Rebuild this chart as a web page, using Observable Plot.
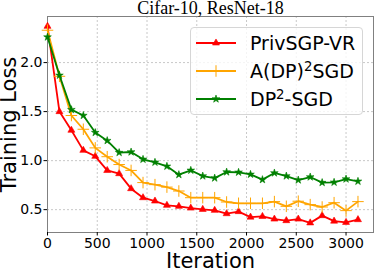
<!DOCTYPE html>
<html><head><meta charset="utf-8">
<script src="https://cdn.jsdelivr.net/npm/d3@7"></script>
<script src="https://cdn.jsdelivr.net/npm/@observablehq/plot@0.6"></script>
<style>
body{margin:0;background:#fff;}
#wrap{position:relative;width:374px;height:268px;font-family:"DejaVu Sans",sans-serif;overflow:hidden;}
#title{height:16px;line-height:16px;padding-left:47px;width:327px;text-align:center;font-family:"Liberation Serif",serif;font-size:18px;position:relative;top:0px;white-space:nowrap;}
#legend{position:absolute;left:190px;top:27px;width:173px;height:88px;border:1px solid #d6d6d6;border-radius:4px;background:rgba(255,255,255,0.8);box-sizing:border-box;}
.row{position:absolute;left:0;height:28px;width:170px;}
.row svg{position:absolute;left:4px;top:0;}
.row span{position:absolute;left:59px;top:0;line-height:28px;font-size:19px;white-space:nowrap;}
sup{font-size:0.7em;line-height:0;vertical-align:0.5em;}
</style></head>
<body>
<div id="wrap">
<div id="title">Cifar-10, ResNet-18</div>
<div id="chart"></div>
<div id="legend"></div>
</div>
<script>
const iterations = [0,120,240,360,480,600,720,840,960,1080,1200,1320,1440,1560,1680,1800,1920,2040,2160,2280,2400,2520,2640,2760,2880,3000,3120];
const privsgp = [2.37,1.50,1.31,1.105,1.044,0.90,0.867,0.714,0.622,0.588,0.544,0.534,0.516,0.503,0.493,0.459,0.48,0.424,0.431,0.404,0.388,0.404,0.365,0.439,0.383,0.37,0.398];
const adp2sgd = [2.33,1.86,1.46,1.32,1.13,1.04,0.96,0.90,0.776,0.755,0.73,0.69,0.622,0.622,0.622,0.578,0.565,0.565,0.565,0.582,0.534,0.586,0.551,0.527,0.571,0.49,0.582];
const dp2sgd = [2.26,1.87,1.52,1.46,1.286,1.204,1.082,1.088,1.013,0.983,0.942,0.857,0.901,0.843,0.822,0.884,0.881,0.860,0.806,0.874,0.843,0.802,0.833,0.776,0.779,0.812,0.789];
const seriesNames = ["PrivSGP-VR","A(DP)<sup>2</sup>SGD","DP<sup>2</sup>-SGD"];
const seriesColors = ["#ff0000","#ffa500","#008000"];
const seriesSymbols = ["triangle","plus","star"];
const xTicks = [0,500,1000,1500,2000,2500,3000];
const yTicks = [0.5,1.0,1.5,2.0];

const allValues = [privsgp, adp2sgd, dp2sgd];
const tables = allValues.map(vals => iterations.map((x,i)=>({x, y: vals[i]})));

const symR = {triangle:2.6, plus:3.8, star:2.4};
const marks = [
  Plot.gridX(xTicks,{stroke:"#b0b0b0",strokeOpacity:0.7,strokeDasharray:"2,2"}),
  Plot.gridY(yTicks,{stroke:"#b0b0b0",strokeOpacity:0.7,strokeDasharray:"2,2"}),
  Plot.frame({stroke:"#808080"}),
  Plot.axisX(xTicks,{tickSize:3.5,tickPadding:2,fontSize:14,tickFormat:d3.format("d"),label:"Iteration",labelAnchor:"center",labelArrow:"none",labelOffset:35}),
  Plot.axisY(yTicks,{tickSize:3.5,tickPadding:1.5,fontSize:14,tickFormat:d=>d.toFixed(1),label:"Training Loss",labelAnchor:"center",labelArrow:"none",labelOffset:46})
];
tables.forEach((t,k)=>{
  marks.push(Plot.line(t,{x:"x",y:"y",stroke:seriesColors[k],strokeWidth:1.8}));
  const sym = seriesSymbols[k];
  if (sym==="plus") marks.push(Plot.dot(t,{x:"x",y:"y",symbol:sym,r:symR[sym],stroke:seriesColors[k],strokeWidth:1}));
  else marks.push(Plot.dot(t,{x:"x",y:"y",symbol:sym,r:symR[sym],fill:seriesColors[k],stroke:seriesColors[k],strokeWidth:0.6}));
});

const chart = Plot.plot({
  width:374,height:252,
  marginLeft:47,marginRight:1,marginTop:0,marginBottom:36,
  style:{fontFamily:"DejaVu Sans",fontSize:"14px",color:"#000",background:"transparent",overflow:"visible"},
  x:{domain:[0,3276]},
  y:{domain:[0.267,2.47]},
  marks
});
d3.select(chart).selectAll('[aria-label="x-axis label"] text, [aria-label="y-axis label"] text').style("font-size","21px");
document.getElementById("chart").appendChild(chart);

// legend
const legend = d3.select("#legend");
const rowTops = [0,28,56];
seriesNames.forEach((name,k)=>{
  const row = legend.append("div").attr("class","row").style("top",(rowTops[k]+1)+"px");
  const svg = row.append("svg").attr("width",42).attr("height",28);
  svg.append("line").attr("x1",1).attr("x2",41).attr("y1",14).attr("y2",14).attr("stroke",seriesColors[k]).attr("stroke-width",1.8);
  const sym = seriesSymbols[k];
  const r = symR[sym];
  const symType = {triangle:d3.symbolTriangle,plus:d3.symbolPlus,star:d3.symbolStar}[sym];
  const p = svg.append("path").attr("transform","translate(21,14)").attr("d",d3.symbol(symType, r*r*Math.PI)());
  if (sym==="plus") p.attr("fill","none").attr("stroke",seriesColors[k]).attr("stroke-width",1);
  else p.attr("fill",seriesColors[k]).attr("stroke",seriesColors[k]).attr("stroke-width",0.6);
  row.append("span").html(name);
});
</script>
</body></html>
